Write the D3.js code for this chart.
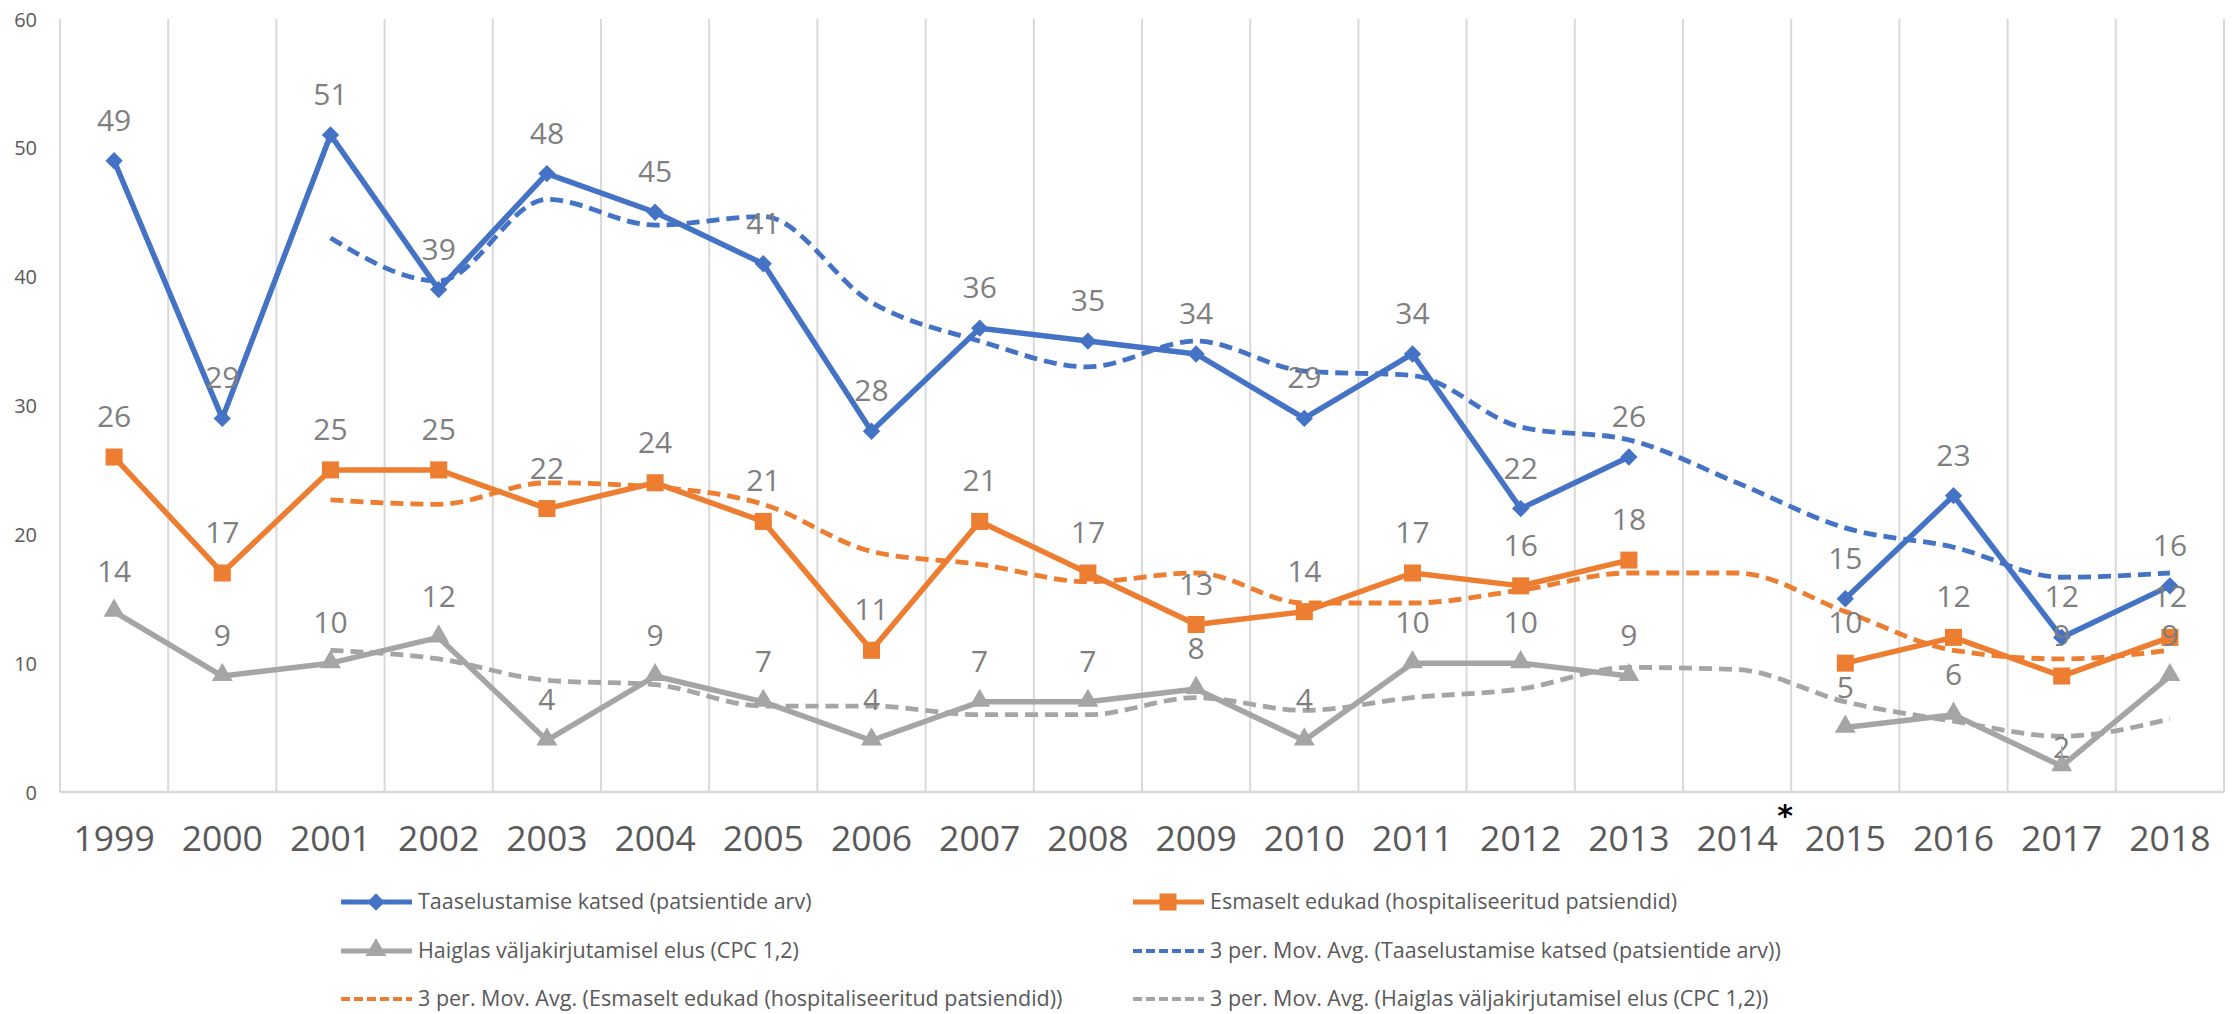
<!DOCTYPE html>
<html>
<head>
<meta charset="utf-8">
<script src="https://cdn.jsdelivr.net/npm/d3@7"></script>
<style>
  html, body { margin: 0; padding: 0; background: #fff; }
  svg { display: block; }
</style>
</head>
<body>
<svg id="chart" width="2236" height="1014"></svg>
<script>
// ---- data ----
const years = ["1999","2000","2001","2002","2003","2004","2005","2006","2007","2008","2009","2010","2011","2012","2013","2014","2015","2016","2017","2018"];
const katsed   = [49,29,51,39,48,45,41,28,36,35,34,29,34,22,26,null,15,23,12,16];
const edukad   = [26,17,25,25,22,24,21,11,21,17,13,14,17,16,18,null,10,12,9,12];
const elus     = [14,9,10,12,4,9,7,4,7,7,8,4,10,10,9,null,5,6,2,9];
const katsedMA = [null,null,43,39.67,46,44,44.67,38,35,33,35,32.67,32.33,28.33,27.33,24,20.5,19,16.67,17];
const edukadMA = [null,null,22.67,22.33,24,23.67,22.33,18.67,17.67,16.33,17,14.67,14.67,15.67,17,17,14,11,10.33,11];
const elusMA   = [null,null,11,10.33,8.67,8.33,6.67,6.67,6,6,7.33,6.33,7.33,8,9.67,9.5,7,5.5,4.33,5.67];
const yTicks = [0,10,20,30,40,50,60];
const legendLabels = [
  "Taaselustamise katsed (patsientide arv)",
  "Esmaselt edukad (hospitaliseeritud patsiendid)",
  "Haiglas väljakirjutamisel elus (CPC 1,2)",
  "3 per. Mov. Avg. (Taaselustamise katsed (patsientide arv))",
  "3 per. Mov. Avg. (Esmaselt edukad (hospitaliseeritud patsiendid))",
  "3 per. Mov. Avg. (Haiglas väljakirjutamisel elus (CPC 1,2))"
];
const markedYear = "2014";

(function () {
// ---- styles ----
const BLUE = "#4472C4", ORANGE = "#ED7D31", GRAY = "#A5A5A5";
const FONT = "'Open Sans', 'DejaVu Sans', sans-serif";

const svg = d3.select("#chart");
const pLeft = 60, pRight = 2224, pTop = 19, pBottom = 792;

const x = d3.scaleBand().domain(years).range([pLeft, pRight]).padding(0);
const y = d3.scaleLinear().domain([0, 60]).range([pBottom, pTop]);
const cx = d => x(d) + x.bandwidth() / 2;

// vertical gridlines at category boundaries
const bounds = years.map(d => x(d)).concat([pRight]);
svg.append("g").selectAll("line").data(bounds).join("line")
  .attr("x1", d => d).attr("x2", d => d)
  .attr("y1", pTop).attr("y2", pBottom)
  .attr("stroke", "#D9D9D9").attr("stroke-width", 2);

// x axis line
svg.append("line").attr("x1", pLeft).attr("x2", pRight)
  .attr("y1", pBottom).attr("y2", pBottom)
  .attr("stroke", "#D9D9D9").attr("stroke-width", 2.5);

// y axis labels
const yAxis = d3.axisLeft(y).tickValues(yTicks).tickSize(0).tickPadding(0);
const gy = svg.append("g").attr("transform", `translate(37,0)`).call(yAxis);
gy.select(".domain").remove();
gy.selectAll("text").attr("font-family", FONT).attr("font-size", 20)
  .attr("fill", "#595959").attr("dy", "0.35em");

// x axis labels
const xAxis = d3.axisBottom(x).tickSize(0).tickPadding(0);
const gx = svg.append("g").attr("transform", `translate(0,${pBottom + 34})`).call(xAxis);
gx.select(".domain").remove();
gx.selectAll("text").attr("font-family", FONT).attr("font-size", 35.5)
  .attr("fill", "#595959").attr("dy", "0.71em");

// asterisk
svg.append("text").attr("x", x(markedYear) + x.bandwidth() - 6).attr("y", pBottom + 34)
  .attr("text-anchor", "middle").attr("font-family", "'DejaVu Sans', sans-serif")
  .attr("font-weight", "bold").attr("font-size", 30).attr("fill", "#000").text("*");

// moving average lines
const maLine = d3.line().defined(v => v != null)
  .x((v, i) => cx(years[i])).y(v => y(v)).curve(d3.curveMonotoneX);
[[katsedMA, BLUE], [edukadMA, ORANGE], [elusMA, GRAY]].forEach(([arr, col]) => {
  svg.append("path").attr("d", maLine(arr)).attr("fill", "none")
    .attr("stroke", col).attr("stroke-width", 4.8)
    .attr("stroke-dasharray", "13,7");
});

// solid series
const solidLine = d3.line().defined(v => v != null)
  .x((v, i) => cx(years[i])).y(v => y(v));

const series = [
  { data: katsed, color: BLUE, kind: "diamond" },
  { data: edukad, color: ORANGE, kind: "square" },
  { data: elus, color: GRAY, kind: "triangle" }
];

function markerPath(kind) {
  if (kind === "diamond") return d3.symbol().type(d3.symbolSquare).size(150)();
  if (kind === "square") return d3.symbol().type(d3.symbolSquare).size(290)();
  return d3.symbol().type(d3.symbolTriangle).size(190)();
}
function markerTransform(kind, px, py) {
  if (kind === "diamond") return `translate(${px},${py}) rotate(45)`;
  if (kind === "triangle") return `translate(${px},${py - 1})`;
  return `translate(${px},${py})`;
}

series.forEach(s => {
  svg.append("path").attr("d", solidLine(s.data)).attr("fill", "none")
    .attr("stroke", s.color).attr("stroke-width", 5.5).attr("stroke-linejoin", "round");
});
series.forEach(s => {
  const pts = s.data.map((v, i) => ({ v, yr: years[i] })).filter(d => d.v != null);
  svg.append("g").selectAll("path").data(pts).join("path")
    .attr("d", markerPath(s.kind))
    .attr("transform", d => markerTransform(s.kind, cx(d.yr), y(d.v)))
    .attr("fill", s.color);
});

// data labels
series.forEach(s => {
  const pts = s.data.map((v, i) => ({ v, yr: years[i] })).filter(d => d.v != null);
  svg.append("g").selectAll("text").data(pts).join("text")
    .attr("x", d => cx(d.yr))
    .attr("y", d => (s.kind === "triangle" && d.yr === "2017") ? y(d.v) - 8 : y(d.v) - 30)
    .attr("text-anchor", "middle")
    .attr("font-family", FONT).attr("font-size", 30).attr("fill", "#7F7F7F")
    .text(d => d.v);
});
// leader line for the moved label
svg.append("line").attr("x1", cx("2017")).attr("x2", cx("2017"))
  .attr("y1", y(2) - 20).attr("y2", y(2)).attr("stroke", "#A5A5A5").attr("stroke-width", 1.5);

// legend
const legendItems = [
  { label: legendLabels[0], color: BLUE, kind: "diamond", dash: null, col: 0, row: 0 },
  { label: legendLabels[1], color: ORANGE, kind: "square", dash: null, col: 1, row: 0 },
  { label: legendLabels[2], color: GRAY, kind: "triangle", dash: null, col: 0, row: 1 },
  { label: legendLabels[3], color: BLUE, kind: null, dash: "9,4", col: 1, row: 1 },
  { label: legendLabels[4], color: ORANGE, kind: null, dash: "9,4", col: 0, row: 2 },
  { label: legendLabels[5], color: GRAY, kind: null, dash: "9,4", col: 1, row: 2 }
];
const colX = [341, 1133];
const rowY = [902, 951, 999];
const lg = svg.append("g");
legendItems.forEach(it => {
  const x0 = colX[it.col], yy = rowY[it.row];
  lg.append("line").attr("x1", x0).attr("x2", x0 + 71).attr("y1", yy).attr("y2", yy)
    .attr("stroke", it.color).attr("stroke-width", it.dash ? 4 : 5)
    .attr("stroke-dasharray", it.dash || null);
  if (it.kind) {
    lg.append("path").attr("d", markerPath(it.kind))
      .attr("transform", markerTransform(it.kind, x0 + 35, yy))
      .attr("fill", it.color);
  }
  lg.append("text").attr("x", x0 + 77).attr("y", yy).attr("dy", "0.32em")
    .attr("font-family", FONT).attr("font-size", 21.5).attr("fill", "#595959")
    .text(it.label);
});
})();
</script>
</body>
</html>
